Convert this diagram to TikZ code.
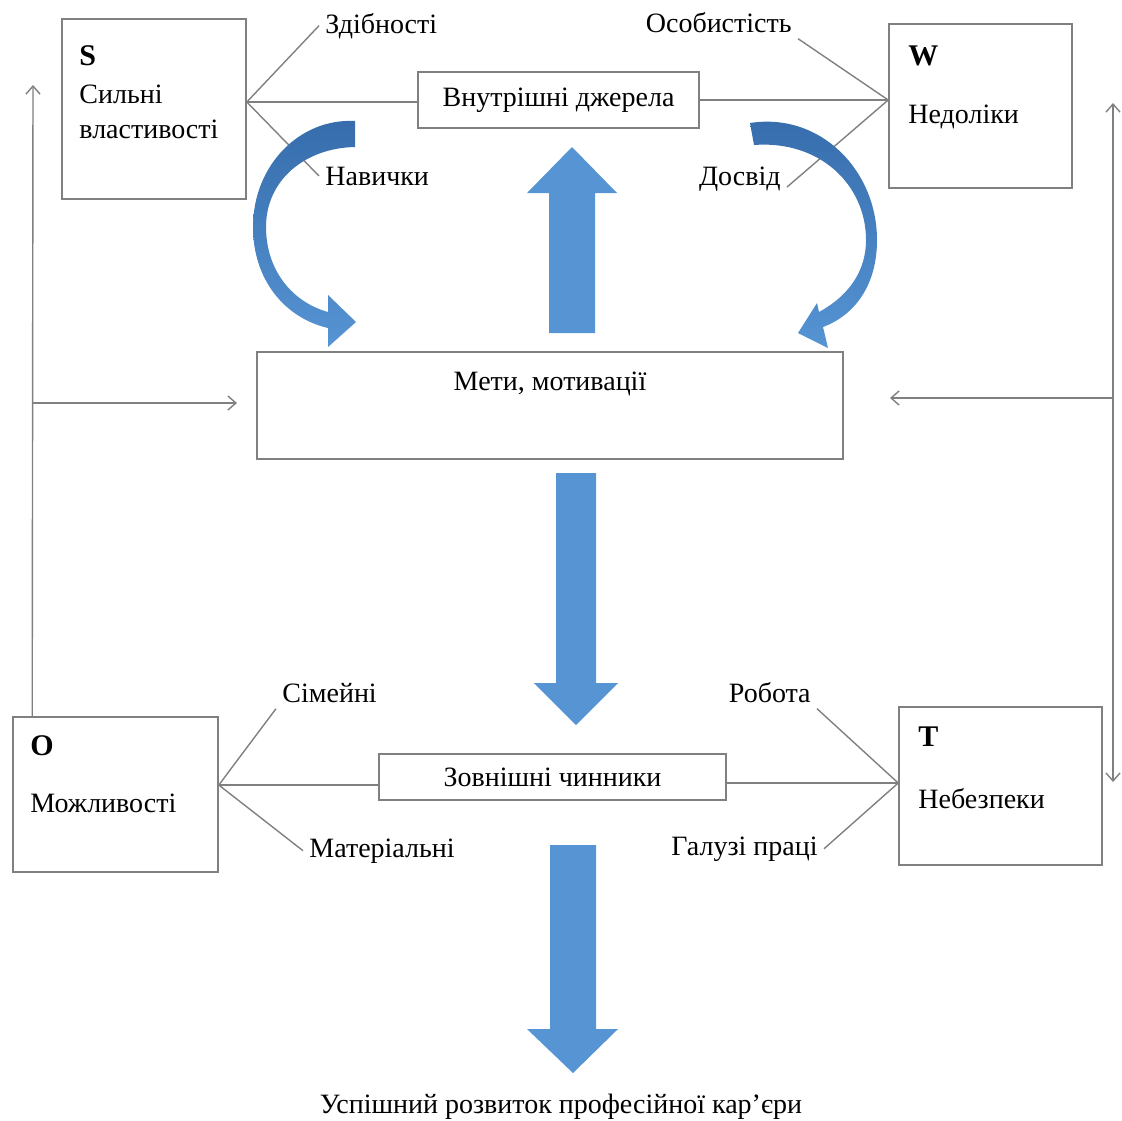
\documentclass[tikz,border=0pt]{standalone}
\usepackage{fontspec}
\setmainfont{Liberation Serif}
\usetikzlibrary{arrows.meta,positioning,calc}
\definecolor{linegray}{RGB}{128,128,128}
\definecolor{arrblue}{RGB}{86,148,211}
\definecolor{arrdark}{RGB}{54,108,172}

\begin{document}
\begin{tikzpicture}[x=0.5pt,y=-0.5pt,
	box/.style={draw=linegray,line width=0.8pt,inner sep=0pt},
	txt/.style={font=\fontsize{14}{17}\selectfont},
	lbl/.style={txt,inner sep=3pt},
	letter/.style={inner sep=0pt,font=\fontsize{15}{18}\selectfont\bfseries},
	conn/.style={draw=linegray,line width=0.7pt},
	blk/.style={fill=arrblue},
	curv/.style={top color=arrdark,bottom color=arrblue},
	>={Straight Barb[length=4pt,width=7pt]}]
	\useasboundingbox (0,0) rectangle (1122,1120);
	% SWOT boxes
	\node[box,minimum width=92pt,minimum height=90pt] (S) at (154,109) {};
	\node[box,minimum width=91.5pt,minimum height=82pt] (W) at (980.5,106) {};
	\node[box,minimum width=102.5pt,minimum height=77.5pt] (O) at (115.5,794.5) {};
	\node[box,minimum width=101.5pt,minimum height=79pt] (T) at (1000.5,786) {};
	\node[letter,anchor=base west] (Sl) at (79,65) {S};
	\node[txt,inner sep=0pt,anchor=base west] (Sd1) at (79,103) {Сильні};
	\node[txt,inner sep=0pt,anchor=base west] (Sd2) at (79,138) {властивості};
	\node[letter,anchor=base west] (Wl) at (908,65) {W};
	\node[txt,inner sep=0pt,anchor=base west] (Wd) at (908,123) {Недоліки};
	\node[letter,anchor=base west] (Ol) at (30,755) {O};
	\node[txt,inner sep=0pt,anchor=base west] (Od) at (30,812) {Можливості};
	\node[letter,anchor=base west] (Tl) at (918,746) {T};
	\node[txt,inner sep=0pt,anchor=base west] (Td) at (918,808) {Небезпеки};
	% middle boxes
	\node[box,txt,minimum width=140.5pt,minimum height=28pt] (int) at (558.5,100) {Внутрішні джерела};
	\node[box,txt,minimum width=173.5pt,minimum height=23pt] (ext) at (552.5,777) {Зовнішні чинники};
	\node[box,minimum width=293pt,minimum height=53.5pt] (goal) at (550,405.5) {};
	\node[txt,inner sep=0pt,anchor=base] (goaltxt) at (550,390) {Мети, мотивації};
	\node[txt,inner sep=0pt,anchor=base] (res) at (561,1113) {Успішний розвиток професійної кар’єри};
	% factor labels
	\node[lbl,anchor=base west] (Zd) at (319,33) {Здібності};
	\node[lbl,anchor=base west] (Nav) at (319,185) {Навички};
	\node[lbl,anchor=base east] (Os) at (798,32) {Особистість};
	\node[lbl,anchor=base east] (Dos) at (787,185) {Досвід};
	\node[lbl,anchor=base west] (Sim) at (276,702) {Сімейні};
	\node[lbl,anchor=base west] (Mat) at (303,857) {Матеріальні};
	\node[lbl,anchor=base east] (Rob) at (817,702) {Робота};
	\node[lbl,anchor=base east] (Gal) at (824,855) {Галузі праці};
	% junctions
	\coordinate (sj) at ($(S.east)+(0,-7)$);
	\coordinate (wj) at ($(W.west)+(0,-6)$);
	\coordinate (oj) at ($(O.east)+(0,-9.5)$);
	\coordinate (tj) at ($(T.west)+(0,-3)$);
	\draw[conn] (sj) -- (Zd.west);
	\draw[conn] (sj) -- (Nav.west);
	\draw[conn] (sj) -- (int.west |- sj);
	\draw[conn] (wj) -- (Os.south east);
	\draw[conn] (wj) -- (Dos.-10);
	\draw[conn] (int.east |- wj) -- (wj);
	\draw[conn] (oj) -- (Sim.south west);
	\draw[conn] (oj) -- (Mat.west);
	\draw[conn] (oj) -- (ext.west |- oj);
	\draw[conn] (tj) -- (Rob.south east);
	\draw[conn] (tj) -- (Gal.east);
	\draw[conn] (ext.east |- tj) -- (tj);
	% feedback lines
	\coordinate (lbot) at ($(O.north west)+(20,0)$);
	\coordinate (ltop) at (33,85);
	\coordinate (lmid) at (33,403);
	\coordinate (lin) at (237,403);
	\coordinate (rtop) at (1113,103);
	\coordinate (rbot) at (1113,782);
	\coordinate (rmid) at (1113,398);
	\coordinate (rin) at (890,398);
	\draw[conn,->] (lbot) -- (ltop);
	\draw[conn,->] (lmid) -- (lin);
	\draw[conn,<->] (rbot) -- (rtop);
	\draw[conn,->] (rmid) -- (rin);
	% block arrows
	\fill[blk] (549,333) -- (549,193) -- (527,193) -- (572,147) -- (617,193) -- (595,193) -- (595,333) -- cycle;
	\fill[blk] (556,473) -- (596,473) -- (596,683) -- (618,683) -- (576,725) -- (534,683) -- (556,683) -- cycle;
	\fill[blk] (550,845) -- (596,845) -- (596,1029) -- (618,1029) -- (573,1073) -- (527,1029) -- (550,1029) -- cycle;
	% curved arrows
	\shade[curv] (355,121) .. controls (300,118) and (253,165) .. (253,227) .. controls (253,280) and (285,318) .. (328,328) -- (328,347) -- (356,322) -- (328,295) -- (328,312) .. controls (292,302) and (266,270) .. (266,227) .. controls (266,180) and (305,148) .. (355,147) -- cycle;
	\shade[curv] (750,123) .. controls (820,112) and (877,170) .. (877,240) .. controls (877,285) and (855,315) .. (823,327) -- (828,348) -- (798,333) -- (817,303) -- (819,312) .. controls (850,295) and (866,270) .. (866,240) .. controls (866,185) and (820,140) .. (754,145) -- cycle;
\end{tikzpicture}
\end{document}
